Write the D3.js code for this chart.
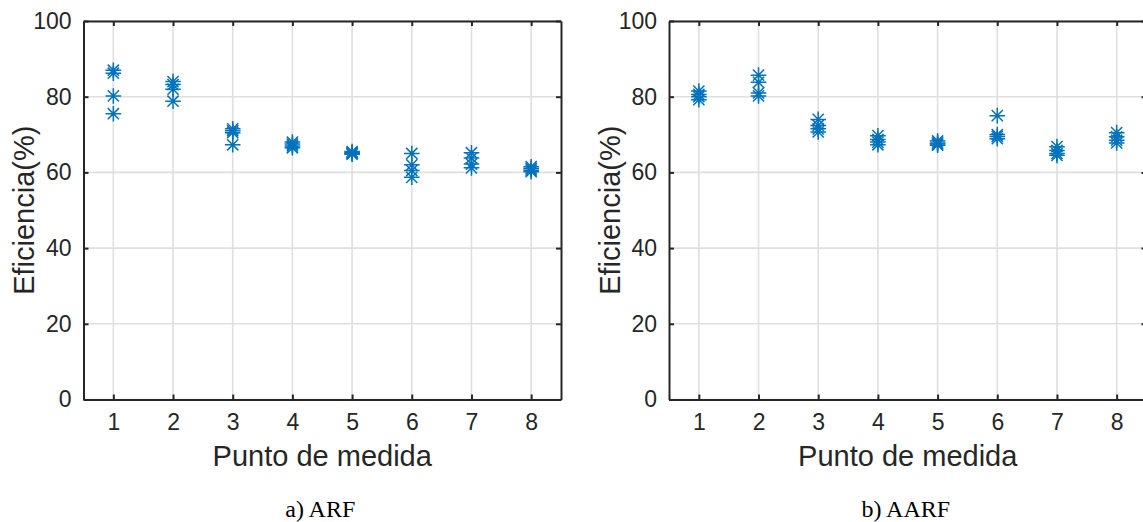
<!DOCTYPE html>
<html>
<head>
<meta charset="utf-8">
<script src="https://cdn.jsdelivr.net/npm/d3@7"></script>
<style>
  body { margin: 0; background: #fff; }
  svg { display: block; }
</style>
</head>
<body>
<svg></svg>
<script>
// measurement points on the x axis
const points = [1, 2, 3, 4, 5, 6, 7, 8];

// efficiency (%) readings at each point, ARF panel
const arfValues = [
  [87, 86.2, 80.2, 75.5],
  [84, 83.2, 82, 78.8],
  [71.5, 71, 70.5, 67.3],
  [68, 67.5, 67, 66.5],
  [65.5, 65.2, 65, 64.8],
  [65, 62, 60.5, 58.7],
  [65.2, 63.8, 62.2, 61.2],
  [61.5, 61, 60.6, 60.2]
];

// efficiency (%) readings at each point, AARF panel
const aarfValues = [
  [81.5, 80.6, 80, 79.2],
  [85.7, 83.8, 81, 80.2],
  [74, 72.4, 71.5, 70.7],
  [69.7, 68.7, 68, 67.3],
  [68.3, 67.8, 67.5, 67.2],
  [75, 70, 69.5, 68.9],
  [66.8, 65.8, 65, 64.5],
  [70.5, 69.4, 68.5, 67.8]
];

const yTicks = [0, 20, 40, 60, 80, 100];
const xLabel = "Punto de medida";
const yLabel = "Eficiencia(%)";
const captions = ["a) ARF", "b) AARF"];

const width = 1143, height = 522;
const plotW = 477.5, plotH = 378.5;
const plotTop = 21;
const lefts = [83.5, 669];
const axisColor = "#262626";
const gridColor = "#dfdfdf";
const markColor = "#0072BD";

const svg = d3.select("svg")
    .attr("width", width)
    .attr("height", height);

function panel(left, values, caption) {
  const x = d3.scaleLinear().domain([0.5, 8.5]).range([left, left + plotW]);
  const y = d3.scaleLinear().domain([0, 100]).range([plotTop + plotH, plotTop]);
  const g = svg.append("g");

  // grid
  g.selectAll(".vg").data(points).enter().append("line")
      .attr("x1", d => x(d)).attr("x2", d => x(d))
      .attr("y1", plotTop).attr("y2", plotTop + plotH)
      .attr("stroke", gridColor).attr("stroke-width", 1.6);
  g.selectAll(".hg").data(yTicks).enter().append("line")
      .attr("y1", d => y(d)).attr("y2", d => y(d))
      .attr("x1", left).attr("x2", left + plotW)
      .attr("stroke", gridColor).attr("stroke-width", 1.6);

  // markers (asterisks)
  const r = 7.8, dg = 5.6;
  const star = `M${-r},0H${r}M0,${-r}V${r}M${-dg},${-dg}L${dg},${dg}M${-dg},${dg}L${dg},${-dg}`;
  const pts = [];
  values.forEach((vals, i) => vals.forEach(v => pts.push({p: points[i], v})));
  g.selectAll(".m").data(pts).enter().append("path")
      .attr("d", star)
      .attr("transform", d => `translate(${x(d.p)},${y(d.v)})`)
      .attr("fill", "none")
      .attr("stroke", markColor)
      .attr("stroke-width", 1.5);

  // axes with inward ticks
  const fs = "23px";
  const bottom = g.append("g").attr("transform", `translate(0,${plotTop + plotH})`)
      .call(d3.axisBottom(x).tickValues(points).tickSize(-5).tickPadding(14).tickSizeOuter(0));
  const leftAx = g.append("g").attr("transform", `translate(${left},0)`)
      .call(d3.axisLeft(y).tickValues(yTicks).tickSize(-5).tickPadding(12).tickSizeOuter(0));
  const topAx = g.append("g").attr("transform", `translate(0,${plotTop})`)
      .call(d3.axisTop(x).tickValues(points).tickSize(-5).tickFormat("").tickSizeOuter(0));
  const rightAx = g.append("g").attr("transform", `translate(${left + plotW},0)`)
      .call(d3.axisRight(y).tickValues(yTicks).tickSize(-5).tickFormat("").tickSizeOuter(0));

  [bottom, leftAx, topAx, rightAx].forEach(a => {
    a.select(".domain").attr("stroke", axisColor).attr("stroke-width", 2);
    a.selectAll(".tick line").attr("stroke", axisColor).attr("stroke-width", 2);
    a.selectAll(".tick text")
        .attr("fill", axisColor)
        .style("font-family", "'Liberation Sans', Arial, sans-serif")
        .style("font-size", fs);
  });

  // axis labels
  g.append("text")
      .attr("x", left + plotW / 2).attr("y", 466)
      .attr("text-anchor", "middle")
      .attr("fill", axisColor)
      .style("font-family", "'Liberation Sans', Arial, sans-serif")
      .style("font-size", "29px")
      .text(xLabel);
  g.append("text")
      .attr("transform", `translate(${left - 49.5},${plotTop + plotH / 2}) rotate(-90)`)
      .attr("text-anchor", "middle")
      .attr("fill", axisColor)
      .style("font-family", "'Liberation Sans', Arial, sans-serif")
      .style("font-size", "29px")
      .text(yLabel);

  // caption
  g.append("text")
      .attr("x", left + plotW / 2 - 2).attr("y", 517)
      .attr("text-anchor", "middle")
      .attr("fill", "#000")
      .style("font-family", "'Liberation Serif', 'Times New Roman', serif")
      .style("font-size", "24px")
      .text(caption);
}

panel(lefts[0], arfValues, captions[0]);
panel(lefts[1], aarfValues, captions[1]);
</script>
</body>
</html>
